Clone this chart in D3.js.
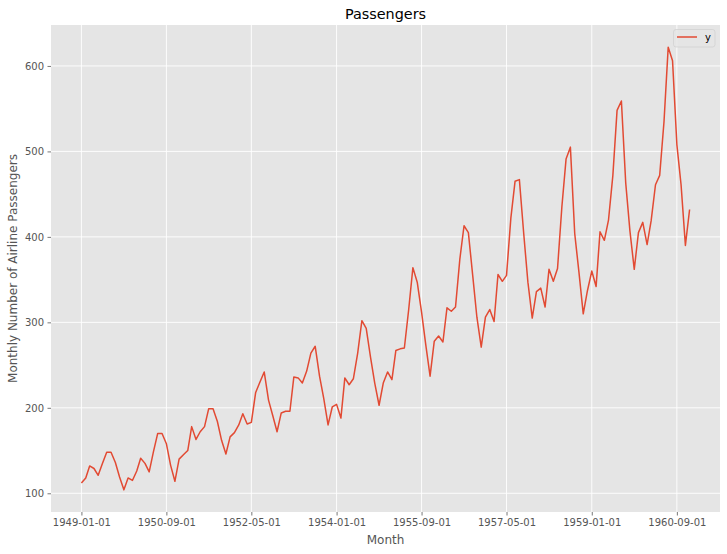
<!DOCTYPE html>
<html><head><meta charset="utf-8">
<script src="https://cdn.jsdelivr.net/npm/d3@7"></script>
<style>body{margin:0;background:#fff;} text{font-family:"DejaVu Sans",sans-serif;}</style>
</head><body>
<svg id="c" width="727" height="554"></svg>
<script>
const startYear = 1949;
const passengers = [
112,118,132,129,121,135,148,148,136,119,104,118,
115,126,141,135,125,149,170,170,158,133,114,140,
145,150,178,163,172,178,199,199,184,162,146,166,
171,180,193,181,183,218,230,242,209,191,172,194,
196,196,236,235,229,243,264,272,237,211,180,201,
204,188,235,227,234,264,302,293,259,229,203,229,
242,233,267,269,270,315,364,347,312,274,237,278,
284,277,317,313,318,374,413,405,355,306,271,306,
315,301,356,348,355,422,465,467,404,347,305,336,
340,318,362,348,363,435,491,505,404,359,310,337,
360,342,406,396,420,472,548,559,463,407,362,405,
417,391,419,461,472,535,622,606,508,461,390,432];
const xTickLabels = ["1949-01-01","1950-09-01","1952-05-01","1954-01-01","1955-09-01","1957-05-01","1959-01-01","1960-09-01"];
const yTicks = [100,200,300,400,500,600];

const data = passengers.map((v,i)=>({date:new Date(Date.UTC(startYear, i, 1)), y:v}));
const svg = d3.select("#c");
const L=51,R=720,T=25,B=512;

const d0=data[0].date, d1=data[data.length-1].date;
const span=d1-d0;
const x=d3.scaleUtc().domain([new Date(+d0-span*0.05), new Date(+d1+span*0.05)]).range([L,R]);
const ymin=d3.min(passengers), ymax=d3.max(passengers), ys=ymax-ymin;
const y=d3.scaleLinear().domain([ymin-ys*0.05, ymax+ys*0.05]).range([B,T]);

svg.append("rect").attr("x",L).attr("y",T).attr("width",R-L).attr("height",B-T).attr("fill","#E5E5E5");

const xTickDates = xTickLabels.map(s=>{const [a,b,c]=s.split("-").map(Number);return new Date(Date.UTC(a,b-1,c));});

const g = svg.append("g");
g.selectAll("line.gx").data(xTickDates).join("line")
 .attr("x1",d=>x(d)).attr("x2",d=>x(d)).attr("y1",T).attr("y2",B)
 .attr("stroke","#fff").attr("stroke-width",0.9);
g.selectAll("line.gy").data(yTicks).join("line")
 .attr("x1",L).attr("x2",R).attr("y1",d=>y(d)).attr("y2",d=>y(d))
 .attr("stroke","#fff").attr("stroke-width",0.9);

const xAxis = d3.axisBottom(x).tickValues(xTickDates).tickFormat((d,i)=>xTickLabels[i]).tickSizeOuter(0).tickSize(3.5).tickPadding(3.5);
const gx = svg.append("g").attr("transform",`translate(0,${B})`).call(xAxis);
gx.select(".domain").remove();
gx.selectAll("line").attr("stroke","#555555").attr("stroke-width",0.8);
gx.selectAll("text").attr("fill","#555555").attr("font-size","10px").attr("font-family","DejaVu Sans");

const yAxis = d3.axisLeft(y).tickValues(yTicks).tickSizeOuter(0).tickSize(3.5).tickPadding(3.5);
const gy = svg.append("g").attr("transform",`translate(${L},0)`).call(yAxis);
gy.select(".domain").remove();
gy.selectAll("line").attr("stroke","#555555").attr("stroke-width",0.8);
gy.selectAll("text").attr("fill","#555555").attr("font-size","10px").attr("font-family","DejaVu Sans");

svg.append("path").datum(data)
 .attr("d",d3.line().x(d=>x(d.date)).y(d=>y(d.y)))
 .attr("fill","none").attr("stroke","#E24A33").attr("stroke-width",1.5).attr("stroke-linejoin","round");

svg.append("text").attr("x",(L+R)/2).attr("y",T-6).attr("text-anchor","middle")
 .attr("font-size","14.4px").attr("fill","#000").text("Passengers");
svg.append("text").attr("x",(L+R)/2).attr("y",544).attr("text-anchor","middle")
 .attr("font-size","12px").attr("fill","#555555").text("Month");
svg.append("text").attr("transform",`translate(17,${(T+B)/2}) rotate(-90)`).attr("text-anchor","middle")
 .attr("font-size","12px").attr("fill","#555555").text("Monthly Number of Airline Passengers");

const lg = svg.append("g");
lg.append("rect").attr("x",673.5).attr("y",29.5).attr("width",41.5).attr("height",17.5).attr("rx",2.5)
 .attr("fill","#E5E5E5").attr("fill-opacity",0.8).attr("stroke","#cccccc").attr("stroke-opacity",0.8).attr("stroke-width",0.8);
lg.append("line").attr("x1",677).attr("x2",697).attr("y1",37).attr("y2",37).attr("stroke","#E24A33").attr("stroke-width",1.5);
lg.append("text").attr("x",705).attr("y",41).attr("font-size","10px").attr("fill","#000").text("y");
</script>
</body></html>
